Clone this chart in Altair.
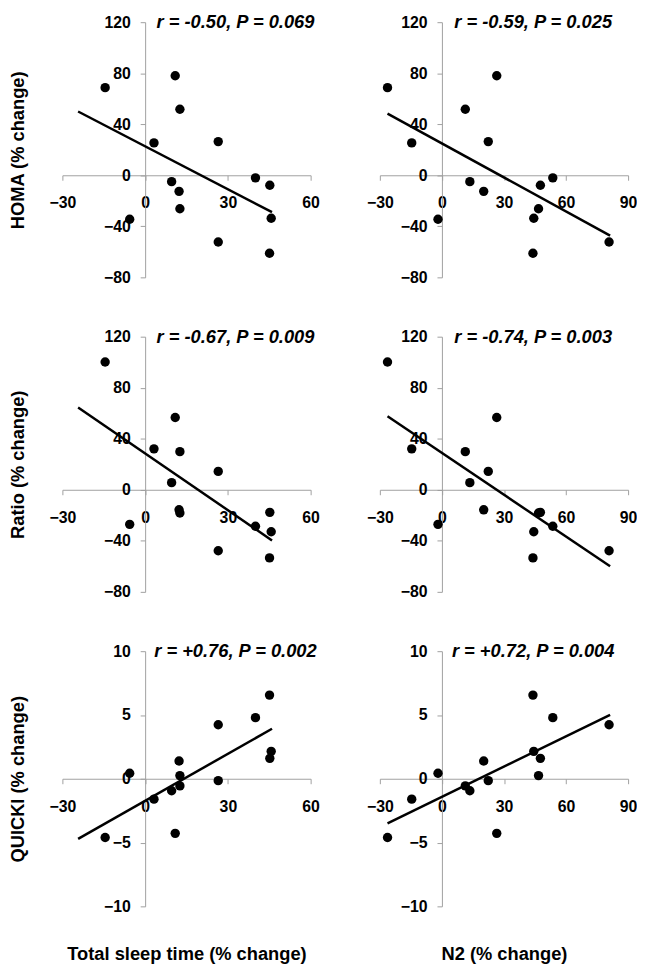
import altair as alt
import pandas as pd

# ---- data (14 subjects) ----
tst = [-14.5, 3.2, -5.6, 12.6, 9.6, 12.3, 26.5, 10.9, 45.1, 45.7, 12.6, 45.2, 40.0, 26.5]
n2 = [-26.3, -14.6, -1.9, 11.3, 13.5, 20.2, 22.4, 26.5, 44.0, 44.4, 46.7, 47.6, 53.6, 80.8]
homa = [68.7, 25.4, -34.5, 51.8, -5.0, -12.6, 26.4, 78.0, -61.1, -33.7, -26.2, -7.8, -2.0, -52.3]
ratio = [100.2, 32.1, -27.1, 29.9, 5.6, -15.7, 14.4, 56.7, -53.4, -32.9, -18.2, -17.7, -28.6, -47.8]
quicki = [-4.6, -1.6, 0.43, -0.56, -0.94, 1.39, -0.15, -4.28, 6.56, 2.15, 0.25, 1.6, 4.79, 4.23]

# trend line end points
tst_line_x = [-24.3, 46.0]
n2_line_x = [-26.3, 81.3]
homa_tst_line = [50.0, -28.9]
homa_n2_line = [48.3, -47.3]
ratio_tst_line = [64.5, -39.7]
ratio_n2_line = [57.7, -60.0]
quicki_tst_line = [-4.71, 3.92]
quicki_n2_line = [-3.49, 5.01]

labels = [
    "r = -0.50, P = 0.069", "r = -0.59, P = 0.025",
    "r = -0.67, P = 0.009", "r = -0.74, P = 0.003",
    "r = +0.76, P = 0.002", "r = +0.72, P = 0.004",
]

tst_ticks = [-30, 0, 30, 60]
n2_ticks = [-30, 0, 30, 60, 90]
pct_ticks = [-80, -40, 0, 40, 80, 120]
quicki_ticks = [-10, -5, 0, 5, 10]

W, H = 251, 258
FONT = "Liberation Sans, Arial, sans-serif"
GRAY = "#a0a0a0"


def panel(xv, yv, xdom, xticks, ydom, yticks, lx, ly, label, label_px, xtitle=None, ytitle=None):
    pts = pd.DataFrame({"x": xv, "y": yv})
    ln = pd.DataFrame({"x": lx, "y": ly})
    lab = pd.DataFrame({"label": [label]})
    xfrac = -xdom[0] / (xdom[1] - xdom[0])
    yfrac = -ydom[0] / (ydom[1] - ydom[0])

    xaxis_kw = dict(values=xticks, offset=-yfrac * H, grid=False, labelFlush=False,
                    labelOverlap=False, tickSize=5, labelPadding=15,
                    domainColor=GRAY, tickColor=GRAY)
    if xtitle:
        xaxis_kw.update(title=xtitle, titleX=W / 2, titleY=yfrac * H + 48,
                        titleAlign="center", titleBaseline="middle")
    else:
        xaxis_kw.update(title="")
    yaxis_kw = dict(values=yticks, offset=-xfrac * W, grid=False, labelFlush=False,
                    labelOverlap=False, tickSize=5, labelPadding=10,
                    domainColor=GRAY, tickColor=GRAY)
    if ytitle:
        yaxis_kw.update(title=ytitle, titleX=-(xfrac * W + 45), titleY=H / 2,
                        titleAlign="center", titleBaseline="middle", titleAngle=270)
    else:
        yaxis_kw.update(title="")

    xenc = alt.X("x:Q", scale=alt.Scale(domain=xdom, nice=False, zero=False),
                 axis=alt.Axis(**xaxis_kw))
    yenc = alt.Y("y:Q", scale=alt.Scale(domain=ydom, nice=False, zero=False),
                 axis=alt.Axis(**yaxis_kw))

    points = alt.Chart(pts).mark_circle(size=90, color="black", opacity=1).encode(x=xenc, y=yenc)
    line = alt.Chart(ln).mark_line(color="black", strokeWidth=2.5).encode(x="x:Q", y="y:Q")
    text = alt.Chart(lab).mark_text(font=FONT, fontSize=18.5, fontWeight="bold", fontStyle="italic",
                                    align="center", baseline="middle", color="black").encode(
        x=alt.value(label_px), y=alt.value(0), text="label:N")
    return alt.layer(points, line, text).properties(width=W, height=H)


LPX, RPX = 175, 155
p1 = panel(tst, homa, [-30, 60], tst_ticks, [-80, 120], pct_ticks, tst_line_x, homa_tst_line,
           labels[0], LPX, ytitle="HOMA (% change)")
p2 = panel(n2, homa, [-30, 90], n2_ticks, [-80, 120], pct_ticks, n2_line_x, homa_n2_line,
           labels[1], RPX)
p3 = panel(tst, ratio, [-30, 60], tst_ticks, [-80, 120], pct_ticks, tst_line_x, ratio_tst_line,
           labels[2], LPX, ytitle="Ratio (% change)")
p4 = panel(n2, ratio, [-30, 90], n2_ticks, [-80, 120], pct_ticks, n2_line_x, ratio_n2_line,
           labels[3], RPX)
p5 = panel(tst, quicki, [-30, 60], tst_ticks, [-10, 10], quicki_ticks, tst_line_x, quicki_tst_line,
           labels[4], LPX, xtitle="Total sleep time (% change)", ytitle="QUICKI (% change)")
p6 = panel(n2, quicki, [-30, 90], n2_ticks, [-10, 10], quicki_ticks, n2_line_x, quicki_n2_line,
           labels[5], RPX, xtitle="N2 (% change)")

chart = alt.concat(
    p1, p2, p3, p4, p5, p6, columns=2,
    spacing={"row": 60, "column": 70}, bounds="flush",
).properties(padding=0, background="white").configure_view(strokeWidth=0).configure_axis(
    labelFont=FONT, labelFontSize=16, labelFontWeight="bold", labelColor="black",
    titleFont=FONT, titleFontSize=18.5, titleFontWeight="bold", titleColor="black",
)

chart.save("out.html", embed_options={"renderer": "svg", "actions": False})
